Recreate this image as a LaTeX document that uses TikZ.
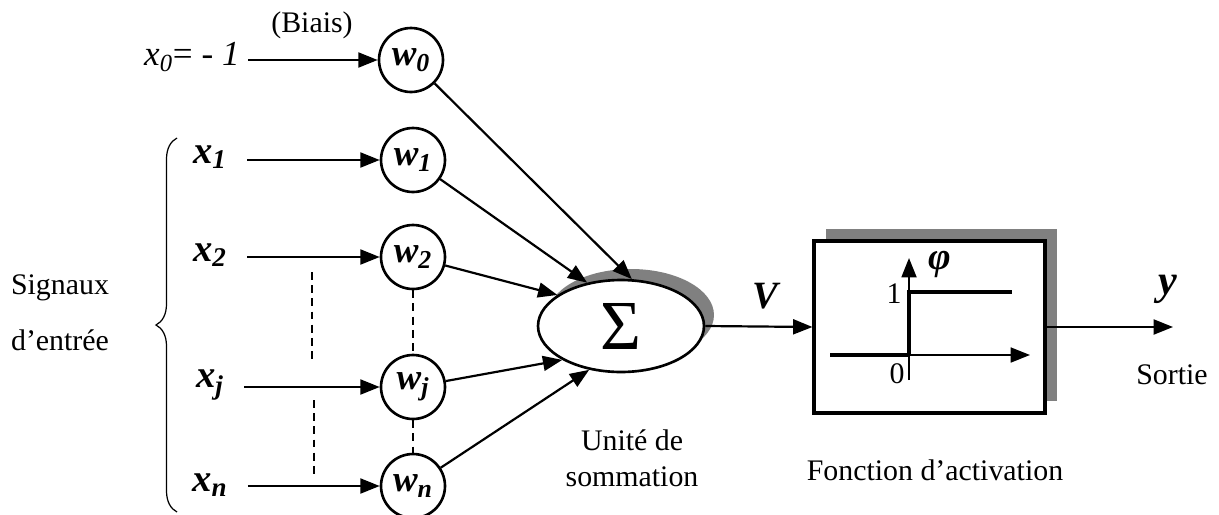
\documentclass[tikz,border=0pt]{standalone}
\usepackage{fontspec}
\setmainfont{Liberation Serif}
\usetikzlibrary{arrows.meta,shapes.geometric,decorations.pathreplacing,shadows}
\begin{document}
\begin{tikzpicture}[x=0.02cm,y=-0.02cm,
  lbl/.style={font=\fontsize{17}{19}\selectfont, inner sep=0pt},
  xlbl/.style={font=\fontsize{22}{24}\selectfont\bfseries\itshape, inner sep=0pt},
  wnode/.style={circle, draw, line width=1.5pt, minimum size=1.28cm, inner sep=0pt, fill=white,
     font=\fontsize{21}{23}\selectfont\bfseries\itshape},
  arr/.style={-{Triangle[length=11pt,width=8.5pt]}, line width=1.25pt},
  dsh/.style={dashed, dash pattern=on 4.5pt off 3pt, line width=0.9pt},
]
\useasboundingbox (0,0) rectangle (1219,514);

% weight nodes
\node[wnode] (w0) at (411,60) {w\textsubscript{0}};
\node[wnode] (w1) at (413,160) {w\textsubscript{1}};
\node[wnode] (w2) at (413,257) {w\textsubscript{2}};
\node[wnode] (wj) at (413,387) {w\textsubscript{j}};
\node[wnode] (wn) at (413,486) {w\textsubscript{n}};

% inputs
\node[lbl] (biais) at (312,25) {(Biais)};
\node[inner sep=0pt, anchor=east, font=\fontsize{20}{22}\selectfont] (x0) at (240,57) {\textit{x\textsubscript{0}}= - \textit{1}};
\node[xlbl] (x1) at (210,157) {x\textsubscript{1}};
\node[xlbl] (x2) at (210,255) {x\textsubscript{2}};
\node[xlbl] (xj) at (210,385) {x\textsubscript{j}};
\node[xlbl] (xn) at (210,485) {x\textsubscript{n}};

\path (x0.east |- w0) ++(8,0) coordinate (s0);
\path (x1.east |- w1) ++(20,0) coordinate (s1);
\path (x2.east |- w2) ++(20,0) coordinate (s2);
\path (xj.east |- wj) ++(20,0) coordinate (sj);
\path (xn.east |- wn) ++(20,0) coordinate (sn);
\draw[arr] (s0) -- (w0);
\draw[arr] (s1) -- (w1);
\draw[arr] (s2) -- (w2);
\draw[arr] (sj) -- (wj);
\draw[arr] (sn) -- (wn);

% dashed continuation marks
\coordinate (da1) at (312,272); \coordinate (da2) at (312,363);
\coordinate (db1) at (314,400); \coordinate (db2) at (314,475);
\draw[dsh] (da1) -- (da2);
\draw[dsh] (db1) -- (db2);
\draw[dsh] (w2.south) -- (wj.north);
\draw[dsh] (wj.south) -- (wn.north);

% brace and label
\coordinate (br1) at (177,512); \coordinate (br2) at (177,138);
\draw[decorate, decoration={brace, amplitude=0.42cm}, line width=0.7pt] (br1) -- (br2);
\node[lbl] (sig1) at (60,288) {Signaux};
\node[lbl] (sig2) at (60,340) {d’entrée};

% summation unit
\node[ellipse, draw, line width=1.5pt, fill=white, minimum width=3.32cm, minimum height=1.84cm, inner sep=0pt,
  drop shadow={shadow xshift=0.2cm, shadow yshift=0.22cm, opacity=1, fill=black!50},
  font=\fontsize{40}{42}\selectfont] (sum) at (621,326) {Σ};
\node[lbl] (u1) at (632,440) {Unité de};
\node[lbl] (u2) at (632,477) {sommation};

\draw[arr] (w0) -- (sum.77);
\draw[arr] (w1) -- (sum.128);
\draw[arr] (w2) -- (sum.154);
\draw[arr] (wj) -- (sum.210);
\draw[arr] (wn) -- (sum.234);

% activation block
\node[rectangle, draw, line width=1.8pt, fill=white, minimum width=4.62cm, minimum height=3.44cm, inner sep=0pt,
  drop shadow={shadow xshift=0.24cm, shadow yshift=0.24cm, opacity=1, fill=black!50}] (box) at (929.5,327) {};
\draw[arr] (sum.east) -- (box.west);
\node[font=\fontsize{22}{24}\selectfont\bfseries\itshape, inner sep=0pt] (V) at (765,296) {V};

% step function plot
\coordinate (hx0) at (830,355); \coordinate (o) at (909,355); \coordinate (hx1) at (1030,355);
\coordinate (vy0) at (909,380); \coordinate (vy1) at (909,258);
\coordinate (st1) at (909,292); \coordinate (st2) at (1012,292);
\draw[arr, line width=1.1pt] (hx0) -- (hx1);
\draw[line width=2pt] (hx0) -- (o);
\draw[arr, line width=1.1pt] (vy0) -- (vy1);
\draw[line width=1.8pt] (o) -- (st1) -- (st2);
\node[lbl] (one) at (894,294) {1};
\node[lbl] (zero) at (897,374) {0};
\node[font=\fontsize{22}{24}\selectfont\bfseries\itshape, inner sep=0pt] (phi) at (940,264) {φ};
\node[lbl] (fa) at (935,470) {Fonction d’activation};

% output
\coordinate (out) at (1173,327);
\draw[arr] (box.east) -- (out);
\node[font=\fontsize{24}{26}\selectfont\bfseries\itshape, inner sep=0pt] (y) at (1168,289) {y};
\node[lbl] (sortie) at (1172,375) {Sortie};
\end{tikzpicture}
\end{document}
